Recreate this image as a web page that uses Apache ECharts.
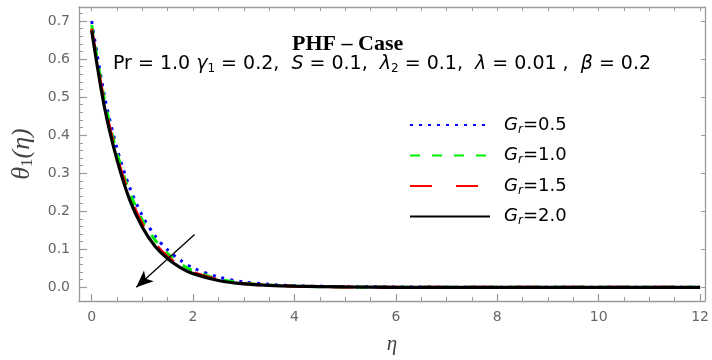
<!DOCTYPE html>
<html>
<head>
<meta charset="utf-8">
<script src="https://cdn.jsdelivr.net/npm/echarts@6/dist/echarts.min.js"></script>
<style>html,body{margin:0;padding:0;background:#fff;}#c{width:712px;height:360px;}</style>
</head>
<body>
<div id="c"></div>
<script>
// ---- data ----
const eta    = [0, 0.25, 0.5, 0.75, 1, 1.25, 1.5, 1.75, 2, 2.5, 3, 3.5, 4, 5, 6, 8, 10, 12];
const gr05   = [0.700, 0.505, 0.365, 0.262, 0.188, 0.135, 0.098, 0.071, 0.051, 0.027, 0.014, 0.008, 0.004, 0.002, 0.001, 0, 0, 0];
const gr10   = [0.690, 0.495, 0.353, 0.250, 0.176, 0.124, 0.088, 0.062, 0.044, 0.022, 0.011, 0.006, 0.003, 0.001, 0, 0, 0, 0];
const gr15   = [0.680, 0.485, 0.343, 0.240, 0.166, 0.115, 0.080, 0.056, 0.039, 0.020, 0.010, 0.005, 0.003, 0.001, 0, 0, 0, 0];
const gr20   = [0.675, 0.475, 0.335, 0.230, 0.158, 0.108, 0.075, 0.052, 0.036, 0.018, 0.009, 0.005, 0.003, 0.001, 0, 0, 0, 0];
const seriesNames = ['Gr=0.5', 'Gr=1.0', 'Gr=1.5', 'Gr=2.0'];
const legendLabels = ['0.5', '1.0', '1.5', '2.0'];
const xMajor = [0, 2, 4, 6, 8, 10, 12];
const xMinor = [0.5, 1, 1.5, 2.5, 3, 3.5, 4.5, 5, 5.5, 6.5, 7, 7.5, 8.5, 9, 9.5, 10.5, 11, 11.5];
const xAll   = [0, 0.5, 1, 1.5, 2, 2.5, 3, 3.5, 4, 4.5, 5, 5.5, 6, 6.5, 7, 7.5, 8, 8.5, 9, 9.5, 10, 10.5, 11, 11.5, 12];
const yMajor = [0, 0.1, 0.2, 0.3, 0.4, 0.5, 0.6, 0.7];
const yMinor = [0.02,0.04,0.06,0.08,0.12,0.14,0.16,0.18,0.22,0.24,0.26,0.28,0.32,0.34,0.36,0.38,0.42,0.44,0.46,0.48,0.52,0.54,0.56,0.58,0.62,0.64,0.66,0.68,0.72];
const arrowFrom = [2.03, 0.139];
const arrowTo   = [0.88, 0.0];

const pts = vals => eta.map((x, i) => [x, vals[i]]);

const axisColor = '#9a9a9a';
const labelColor = '#666666';
const sans = 'DejaVu Sans';
const XMIN = -0.25, XMAX = 12.1, YMIN = -0.036, YMAX = 0.737;

const baseX = { type: 'value', min: XMIN, max: XMAX, gridIndex: 0, splitLine: { show: false } };
const baseY = { type: 'value', min: YMIN, max: YMAX, gridIndex: 0, splitLine: { show: false } };

const chart = echarts.init(document.getElementById('c'), null, { renderer: 'canvas' });
const styles = [
  { color: '#0000ff', type: [3, 6], width: 3, cap: 'butt' },
  { color: '#00ee00', type: [10, 12], width: 3, cap: 'butt' },
  { color: '#ff0000', type: [22, 24], width: 3, cap: 'butt' },
  { color: '#000000', type: 'solid', width: 3.2, cap: 'butt' }
];
const datas = [gr05, gr10, gr15, gr20];

const series = datas.map((d, i) => {
  const s = {
    name: seriesNames[i],
    type: 'line',
    data: pts(d),
    smooth: 0.3,
    symbol: 'none',
    showSymbol: false,
    lineStyle: styles[i],
    itemStyle: { color: styles[i].color },
    z: 2 + i,
    clip: true
  };
  if (i === 3) {
    s.markLine = {
      silent: true,
      symbol: ['none', 'arrow'],
      symbolSize: [11, 17],
      lineStyle: { color: '#000', width: 1.3, type: 'solid' },
      label: { show: false },
      data: [[{ coord: arrowFrom }, { coord: arrowTo }]]
    };
  }
  return s;
});

const plain = { fontFamily: sans, fontSize: 19, fontWeight: 'normal', color: '#000' };
const ital = Object.assign({}, plain, { fontStyle: 'italic' });
const sub = { fontFamily: sans, fontSize: 12, fontWeight: 'normal', color: '#000', padding: [9, 0, 0, 0] };
const lplain = Object.assign({}, plain, { fontSize: 18 });
const lital = Object.assign({}, lplain, { fontStyle: 'italic' });

const option = {
  animation: false,
  backgroundColor: '#fff',
  grid: { left: 79, right: 3, top: 7, bottom: 57, containLabel: false },
  title: [
    {
      text: 'PHF – Case',
      left: 287, top: 28,
      textStyle: { fontFamily: 'Liberation Serif', fontWeight: 'bold', fontSize: 22, color: '#000' }
    },
    {
      text: '{n|Pr = 1.0 }{i|γ}{s|1}{n| = 0.2,  }{i|S}{n| = 0.1,  }{i|λ}{s|2}{n| = 0.1,  }{i|λ}{n| = 0.01 ,  }{i|β}{n| = 0.2}',
      left: 108, top: 49,
      textStyle: { fontWeight: 'normal', rich: { n: plain, i: ital, s: sub } }
    }
  ],
  legend: {
    orient: 'vertical',
    left: 404, top: 111,
    itemWidth: 80, itemHeight: 14, itemGap: 11,
    data: seriesNames,
    itemStyle: { opacity: 0 },
    formatter: name => '{g|G}{r|r}{n|=' + legendLabels[seriesNames.indexOf(name)] + '}',
    textStyle: {
      rich: {
        g: Object.assign({}, lital, { padding: [0, 0, 0, 9] }),
        r: Object.assign({}, sub, { fontStyle: 'italic' }),
        n: lplain
      }
    }
  },
  xAxis: [
    Object.assign({}, baseX, {
      position: 'bottom',
      name: 'η', nameLocation: 'middle', nameGap: 33,
      nameTextStyle: { fontFamily: 'Liberation Serif', fontStyle: 'italic', fontSize: 21, color: '#444' },
      axisLine: { show: true, onZero: false, lineStyle: { color: axisColor, width: 1.3 } },
      axisTick: { show: true, inside: true, length: 7, customValues: xMajor, lineStyle: { color: axisColor, width: 1.2 } },
      axisLabel: { show: true, margin: 9, customValues: xMajor, color: labelColor, fontFamily: sans, fontSize: 14,
        formatter: v => String(v) }
    }),
    Object.assign({}, baseX, {
      position: 'bottom',
      axisLine: { show: false, onZero: false },
      axisTick: { show: true, inside: true, length: 4, customValues: xMinor, lineStyle: { color: axisColor, width: 1 } },
      axisLabel: { show: false }
    }),
    Object.assign({}, baseX, {
      position: 'top',
      axisLine: { show: true, onZero: false, lineStyle: { color: axisColor, width: 1.3 } },
      axisTick: { show: true, inside: true, length: 4, customValues: xAll, lineStyle: { color: axisColor, width: 1 } },
      axisLabel: { show: false }
    })
  ],
  yAxis: [
    Object.assign({}, baseY, {
      position: 'left',
      name: '{t|θ}{s|1}{t|(η)}', nameLocation: 'middle', nameGap: 43, nameRotate: 90,
      nameTextStyle: {
        rich: {
          t: { fontFamily: 'Liberation Serif', fontStyle: 'italic', fontSize: 26, color: '#444' },
          s: { fontFamily: 'Liberation Serif', fontSize: 17, color: '#444', padding: [11, 0, 0, 0] }
        }
      },
      axisLine: { show: true, onZero: false, lineStyle: { color: axisColor, width: 1.3 } },
      axisTick: { show: true, inside: true, length: 8, customValues: yMajor, lineStyle: { color: axisColor, width: 1.2 } },
      axisLabel: { show: true, margin: 9, customValues: yMajor, color: labelColor, fontFamily: sans, fontSize: 14,
        formatter: v => v.toFixed(1) }
    }),
    Object.assign({}, baseY, {
      position: 'left',
      axisLine: { show: false, onZero: false },
      axisTick: { show: true, inside: true, length: 4, customValues: yMinor, lineStyle: { color: axisColor, width: 1 } },
      axisLabel: { show: false }
    }),
    Object.assign({}, baseY, {
      position: 'right',
      axisLine: { show: true, onZero: false, lineStyle: { color: axisColor, width: 1.3 } },
      axisTick: { show: true, inside: true, length: 4, customValues: yMajor, lineStyle: { color: axisColor, width: 1 } },
      axisLabel: { show: false }
    })
  ],
  series: series
};
chart.setOption(option);
</script>
</body>
</html>
